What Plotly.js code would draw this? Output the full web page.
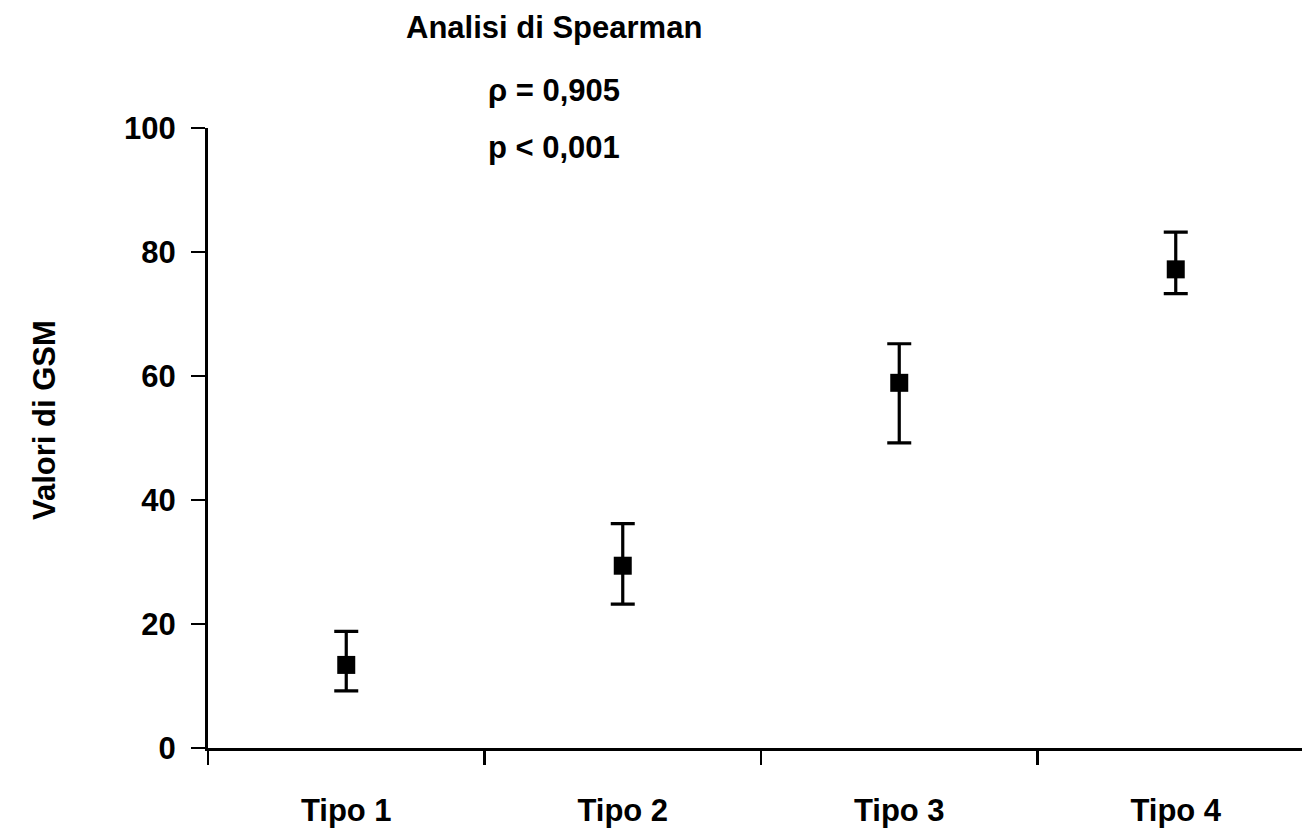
<!DOCTYPE html>
<html>
<head>
<meta charset="utf-8">
<script src="https://cdn.plot.ly/plotly-3.0.1.min.js"></script>
<style>html,body{margin:0;padding:0;background:#fff;}#chart{width:1302px;height:837px;}</style>
</head>
<body>
<div id="chart"></div>
<script>
const categories = ["Tipo 1", "Tipo 2", "Tipo 3", "Tipo 4"];
const meanValues = [13.4, 29.4, 58.9, 77.2];
const upperValues = [18.8, 36.2, 65.2, 83.2];
const lowerValues = [9.2, 23.2, 49.2, 73.3];
const yTickValues = [0, 20, 40, 60, 80, 100];
const titleText = "Analisi di Spearman";
const rhoText = "\u03c1 = 0,905";
const pText = "p < 0,001";
const yTitle = "Valori di GSM";

const xIdx = categories.map((c, i) => i);
const errPlus = meanValues.map((m, i) => upperValues[i] - m);
const errMinus = meanValues.map((m, i) => m - lowerValues[i]);

const FONT = "Liberation Sans, Arial, sans-serif";
const fnt = {family: FONT, size: 31, color: "#000", weight: "bold"};

const trace = {
  x: xIdx, y: meanValues, type: "scatter", mode: "markers",
  marker: {symbol: "square", size: 18, color: "#000"},
  error_y: {type: "data", symmetric: false, array: errPlus, arrayminus: errMinus,
            color: "#000", thickness: 3.2, width: 12},
  showlegend: false, hoverinfo: "skip"
};

const L = 208, R = 0, T = 128, B = 89, W = 1302, H = 837;
const pw = W - L - R, ph = H - T - B;
const catPx = 276.5;
const px2x = p => (p - L) / pw;
const py2y = p => (H - B - p) / ph;

const layout = {
  width: W, height: H,
  margin: {l: L, r: R, t: T, b: B, pad: 0},
  paper_bgcolor: "#fff", plot_bgcolor: "#fff",
  font: {family: FONT, color: "#000"},
  xaxis: {
    range: [-0.5, -0.5 + pw / catPx],
    tickmode: "array", tickvals: xIdx, ticktext: categories,
    ticks: "", showgrid: false, zeroline: false,
    showline: true, linecolor: "#000", linewidth: 3,
    tickfont: fnt, ticklabelstandoff: 33,
    minor: {tick0: -0.5, dtick: 1, ticks: "outside", ticklen: 14, tickwidth: 2.5, tickcolor: "#000", showgrid: false}
  },
  yaxis: {
    range: [0, 100], tickmode: "array", tickvals: yTickValues,
    ticks: "outside", ticklen: 14, tickwidth: 2.5, tickcolor: "#000",
    showgrid: false, zeroline: false,
    showline: true, linecolor: "#000", linewidth: 3,
    tickfont: fnt, ticklabelstandoff: 9
  },
  annotations: [
    {text: titleText, xref: "paper", yref: "paper", x: px2x(554), y: py2y(28), xanchor: "center", yanchor: "middle", showarrow: false, font: fnt},
    {text: rhoText, xref: "paper", yref: "paper", x: px2x(486), y: py2y(90), xanchor: "left", yanchor: "middle", showarrow: false, font: fnt},
    {text: pText, xref: "paper", yref: "paper", x: px2x(486), y: py2y(147), xanchor: "left", yanchor: "middle", showarrow: false, font: fnt},
    {text: yTitle, xref: "paper", yref: "paper", x: px2x(44), y: py2y(420), xanchor: "center", yanchor: "middle", textangle: -90, showarrow: false, font: fnt}
  ]
};

Plotly.newPlot("chart", [trace], layout, {displayModeBar: false, staticPlot: true});
</script>
</body>
</html>
